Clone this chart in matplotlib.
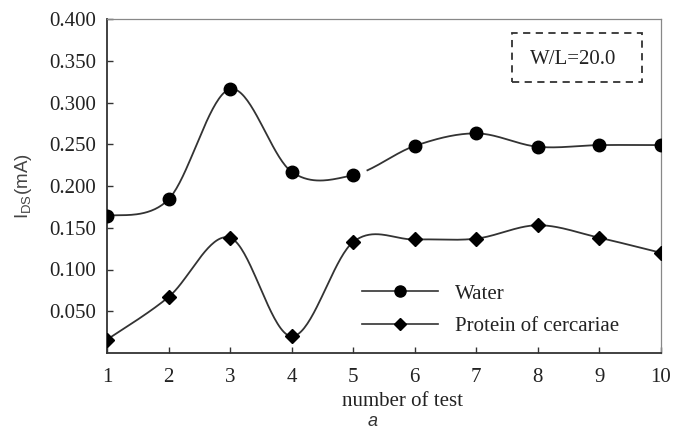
import numpy as np
import matplotlib
matplotlib.use("Agg")
import matplotlib.pyplot as plt
from matplotlib.patches import Rectangle

tests = [1, 2, 3, 4, 5, 6, 7, 8, 9, 10]
water = [0.164, 0.184, 0.316, 0.217, 0.213, 0.248, 0.263, 0.247, 0.249, 0.249]
protein = [0.016, 0.067, 0.138, 0.020, 0.133, 0.136, 0.137, 0.153, 0.138, 0.120]
yticks = [0.05, 0.10, 0.15, 0.20, 0.25, 0.30, 0.35, 0.40]
ytick_labels = ["0.050", "0.100", "0.150", "0.200", "0.250", "0.300", "0.350", "0.400"]

serif = "Liberation Serif"
FS = 15


def smooth(xs, ys, n=40):
    xs = np.asarray(xs, float)
    ys = np.asarray(ys, float)
    px = np.concatenate([[xs[0]], xs, [xs[-1]]])
    py = np.concatenate([[ys[0]], ys, [ys[-1]]])
    segs = []
    for i in range(1, len(px) - 2):
        p0 = np.array([px[i], py[i]])
        p3 = np.array([px[i + 1], py[i + 1]])
        p1 = p0 + (np.array([px[i + 1], py[i + 1]]) - np.array([px[i - 1], py[i - 1]])) / 6
        p2 = p3 - (np.array([px[i + 2], py[i + 2]]) - np.array([px[i], py[i]])) / 6
        t = np.linspace(0, 1, n)[:, None]
        b = ((1 - t) ** 3) * p0 + 3 * ((1 - t) ** 2) * t * p1 + 3 * (1 - t) * t ** 2 * p2 + t ** 3 * p3
        segs.append(b)
    return np.vstack(segs)


fig = plt.figure(figsize=(6.75, 4.28), dpi=100)
ax = fig.add_axes([107 / 675, 1 - 353 / 428, (661 - 107) / 675, (353 - 19) / 428])

cw = smooth(tests, water)
# small gap in the original water curve just after test 5
gap = (cw[:, 0] > 5.0) & (cw[:, 0] < 5.21)
cwy = cw[:, 1].copy()
cwy[gap] = np.nan
ax.plot(cw[:, 0], cwy, color="#333333", lw=1.3, zorder=2)
cp = smooth(tests, protein)
ax.plot(cp[:, 0], cp[:, 1], color="#333333", lw=1.3, zorder=2)

ax.plot(tests, water, "o", color="black", ms=9, zorder=3)
ax.plot(tests, protein, "D", color="black", ms=7, zorder=3)

ax.set_xlim(1, 10)
ax.set_ylim(0, 0.4)
ax.set_xticks(tests)
ax.set_xticklabels([str(t) for t in tests], fontfamily=serif, fontsize=FS)
ax.set_yticks(yticks)
ax.set_yticklabels(ytick_labels, fontfamily=serif, fontsize=FS)
ax.tick_params(axis="both", direction="in", length=4, width=1, color="#333333", labelcolor="#222222")
ax.tick_params(axis="x", pad=11)
ax.tick_params(axis="y", pad=8)
for s in ["left", "bottom"]:
    ax.spines[s].set_color("#333333")
    ax.spines[s].set_linewidth(1.3)
for s in ["top", "right"]:
    ax.spines[s].set_color("#888888")
    ax.spines[s].set_linewidth(0.9)

fig.text(403 / 675, 1 - 402 / 428, "number of test", fontfamily=serif, fontsize=FS,
         ha="center", va="center", color="#222222")
ax.set_ylabel(r"I$_\mathregular{DS}$(mA)", fontfamily="Liberation Sans", fontsize=13.5,
              color="#444444")
ax.yaxis.set_label_coords(-0.131, 0.5)
fig.text(373 / 675, 1 - 421 / 428, "a", fontfamily="Liberation Sans", style="italic",
         fontsize=13, ha="center", va="center", color="#333333")

# W/L box
rect = Rectangle((512 / 675, 1 - 82 / 428), 130 / 675, 49 / 428, transform=fig.transFigure,
                 fill=False, ls=(0, (4, 3)), lw=1.3, ec="#333333")
fig.patches.append(rect)
fig.text(573 / 675, 1 - 59 / 428, "W/L=20.0", fontfamily=serif, fontsize=15,
         ha="center", va="center", color="#222222")

# legend
h1, = ax.plot([], [], "-o", color="#333333", mfc="black", mec="black", ms=8, lw=1.2)
h2, = ax.plot([], [], "-D", color="#333333", mfc="black", mec="black", ms=6, lw=1.2)
leg = ax.legend([h1, h2], ["Water", "Protein of cercariae"], loc="upper left",
                bbox_to_anchor=(362 / 675, 1 - 284 / 428), bbox_transform=fig.transFigure,
                frameon=False, handlelength=3.65, borderpad=0, borderaxespad=0,
                prop={"family": serif, "size": FS}, labelspacing=0.62, handletextpad=0.8)
for t in leg.get_texts():
    t.set_color("#222222")

fig.savefig("out.png", dpi=100)
